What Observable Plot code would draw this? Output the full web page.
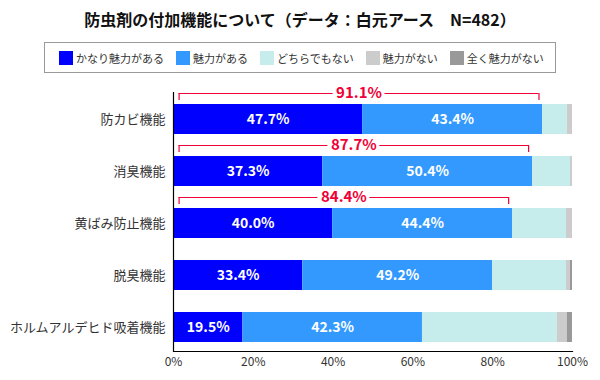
<!DOCTYPE html>
<html>
<head>
<meta charset="utf-8">
<script src="https://cdn.jsdelivr.net/npm/d3@7"></script>
<script src="https://cdn.jsdelivr.net/npm/@observablehq/plot@0.6"></script>
<style>
  body { margin: 0; background: #fff; font-family: "Noto Sans CJK JP", "Noto Sans", sans-serif; }
  #wrap { position: relative; width: 600px; height: 380px; overflow: hidden; }
  #title { position: absolute; left: 0; top: 8px; width: 600px; text-align: center; font-size: 16px; font-weight: bold; color: #111; line-height: 22px; white-space: nowrap; }
  #legend { position: absolute; left: 44px; top: 42px; width: 512px; height: 31px; box-sizing: border-box; border: 1px solid #999; display: flex; align-items: center; padding-left: 14px; }
  .item { display: flex; align-items: center; margin-right: 12px; font-size: 11px; color: #333; white-space: nowrap; }
  .sw { width: 14px; height: 14px; margin-right: 3px; }
  #chart { position: absolute; left: 0; top: 80px; }
</style>
</head>
<body>
<div id="wrap">
  <div id="title">防虫剤の付加機能について（データ：白元アース　N=482）</div>
  <div id="legend"></div>
  <div id="chart"></div>
</div>
<script>
// ---- data ----
const categories = ["防カビ機能", "消臭機能", "黄ばみ防止機能", "脱臭機能", "ホルムアルデヒド吸着機能"];
const responses = ["かなり魅力がある", "魅力がある", "どちらでもない", "魅力がない", "全く魅力がない"];
const colors = ["#0000ff", "#3399ff", "#c6ecec", "#cccccc", "#999999"];
// bar lengths as drawn in the picture (%)
const barVeryAttractive = [47.4, 37.4, 39.9, 32.4, 17.4];
const barAttractive     = [45.1, 52.6, 45.1, 47.6, 45.0];
const barNeutral        = [6.2, 9.5, 13.5, 18.5, 33.8];
const barNotAttractive  = [1.3, 0.5, 1.5, 1.0, 2.5];
const barNotAtAll       = [0.0, 0.0, 0.0, 0.5, 1.3];
// printed values (%)
const labelVeryAttractive = [47.7, 37.3, 40.0, 33.4, 19.5];
const labelAttractive     = [43.4, 50.4, 44.4, 49.2, 42.3];
const xTicks = [0, 20, 40, 60, 80, 100];
const bracketCategories = ["防カビ機能", "消臭機能", "黄ばみ防止機能"];
const bracketStart = [1.4, 1.4, 1.4];
const bracketEnd = [91.6, 89.0, 84.0];

// ---- build table ----
const series = [barVeryAttractive, barAttractive, barNeutral, barNotAttractive, barNotAtAll];
const labels = [labelVeryAttractive, labelAttractive];
const rows = [];
responses.forEach((r, ri) => {
  categories.forEach((c, ci) => {
    rows.push({cat: c, resp: r, ri, value: series[ri][ci], label: ri < 2 ? labels[ri][ci].toFixed(1) + "%" : ""});
  });
});
const brackets = bracketCategories.map((c, i) => {
  const ci = categories.indexOf(c);
  const total = labelVeryAttractive[ci] + labelAttractive[ci];
  const mid = (bracketStart[i] + bracketEnd[i]) / 2;
  return {cat: c, total, start: bracketStart[i], end: bracketEnd[i], mid};
});
const gapHalf = 6.5;
const red = "#f00036";

// ---- legend ----
const legend = document.getElementById("legend");
responses.forEach((r, i) => {
  const it = document.createElement("div");
  it.className = "item";
  const sw = document.createElement("div");
  sw.className = "sw";
  sw.style.background = colors[i];
  const t = document.createElement("span");
  t.textContent = r;
  it.appendChild(sw); it.appendChild(t);
  legend.appendChild(it);
});

// ---- chart ----
const chart = Plot.plot({
  width: 600,
  height: 300,
  marginTop: 12,
  marginBottom: 29,
  marginLeft: 173,
  marginRight: 28,
  style: {fontFamily: '"Noto Sans CJK JP", "Noto Sans", sans-serif', color: "#333", background: "white"},
  x: {domain: [0, 100]},
  y: {domain: categories, paddingInner: 0.423, paddingOuter: 0.2, align: 0.57},
  color: {domain: responses, range: colors},
  marks: [
    Plot.barX(rows, {x: "value", y: "cat", fill: "resp", z: "resp"}),
    Plot.text(rows, Plot.stackX({
      x: "value", y: "cat", z: "resp", text: "label",
      fill: "white", fontWeight: "bold", fontSize: 14
    })),
    // brackets
    Plot.ruleY(brackets, {y: "cat", x1: "start", x2: d => d.mid - gapHalf, dy: -26, stroke: red, strokeWidth: 1.2}),
    Plot.ruleY(brackets, {y: "cat", x1: d => d.mid + gapHalf, x2: "end", dy: -26, stroke: red, strokeWidth: 1.2}),
    Plot.ruleX(brackets, {x: "start", y1: "cat", y2: "cat", dy: -11, insetBottom: 23, stroke: red, strokeWidth: 1.2}),
    Plot.ruleX(brackets, {x: "end", y1: "cat", y2: "cat", dy: -11, insetBottom: 23, stroke: red, strokeWidth: 1.2}),
    Plot.text(brackets, {y: "cat", x: "mid", text: d => d.total.toFixed(1) + "%", dy: -26, fill: red, fontWeight: "bold", fontSize: 15}),
    // axes
    Plot.axisX({ticks: xTicks, tickFormat: d => d + "%", tickSize: 0, tickPadding: 6, fontSize: 12, label: null}),
    Plot.axisY({tickSize: 0, tickPadding: 8, fontSize: 13, label: null}),
    Plot.ruleX([0], {stroke: "black", strokeWidth: 1.2}),
    Plot.frame({anchor: "bottom", stroke: "black", strokeWidth: 1.2})
  ]
});
document.getElementById("chart").appendChild(chart);
</script>
</body>
</html>
